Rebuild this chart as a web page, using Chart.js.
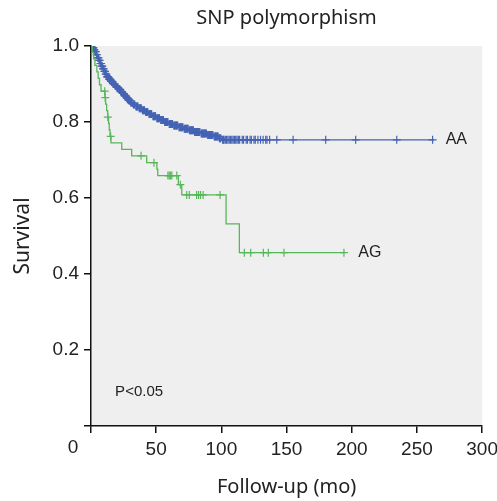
<!DOCTYPE html>
<html lang="en">
<head>
  <meta charset="UTF-8" />
  <title>SNP polymorphism</title>
  <style>
    html, body { margin: 0; padding: 0; background: #fff; overflow: hidden; }
  </style>
  <script src="https://cdn.jsdelivr.net/npm/chart.js"></script>
</head>
<body>
  <canvas id="km" width="503" height="501"></canvas>

  <script>
    const chartTitle = 'SNP polymorphism';

    // tick labels
    const xTicks = [0, 50, 100, 150, 200, 250, 300];
    const yTicks = [0, 0.2, 0.4, 0.6, 0.8, 1.0];

    // group AA: event times (mo) and survival after each drop
    const aaTime = [0, 1, 2, 3, 4, 5, 6, 7, 8, 9, 10, 11, 12, 13.5, 15, 16.5, 18, 19.5, 21, 22.5, 24, 25.5, 27, 28.5, 30,
                    32, 34, 36.5, 39, 41.5, 44, 47, 50, 53, 56, 59.5, 63, 67, 71, 75, 79, 84, 89, 94, 98, 100.5, 263];
    const aaSurv = [1.0, 0.995, 0.99, 0.985, 0.977, 0.969, 0.962, 0.954, 0.947, 0.940, 0.933, 0.926, 0.919, 0.913, 0.907,
                    0.901, 0.896, 0.891, 0.886, 0.880, 0.875, 0.869, 0.863, 0.857, 0.851, 0.846, 0.841, 0.836, 0.831,
                    0.826, 0.821, 0.815, 0.810, 0.805, 0.800, 0.795, 0.791, 0.786, 0.782, 0.778, 0.774, 0.770, 0.766,
                    0.762, 0.757, 0.753, 0.753];
    // censored times AA
    const aaCensor = [0.3, 0.7, 1.2, 1.5, 1.8, 2.3, 2.6, 3.3, 3.6, 4.2, 4.6, 5.3, 5.7, 6.2, 6.6, 7.3, 7.7, 8.3, 8.7,
                      9.3, 9.7, 10.3, 10.7, 11.3, 11.7, 12.3, 12.8, 13.2, 13.8, 14.3, 14.7, 15.4, 15.8, 16.2, 16.8,
                      17.3, 17.7, 18.4, 18.8, 19.2, 19.8, 20.3, 20.7, 21.4, 21.8, 22.2, 22.8, 23.3, 23.7, 24.4, 24.8,
                      25.2, 25.8, 26.3, 26.7, 27.4, 27.8, 28.2, 28.8, 29.3, 29.7, 30.5, 31, 31.5, 32.5, 33, 33.5,
                      34.5, 35, 35.5, 36, 37, 37.5, 38, 38.5, 39.5, 40, 40.5, 41, 42, 42.5, 43, 43.5, 44.5, 45, 45.5,
                      46, 46.5, 47.5, 48, 48.5, 49, 49.5, 50.5, 51, 51.5, 52, 52.5, 53.5, 54, 54.5, 55, 55.5, 56.5,
                      57, 57.5, 58, 58.5, 59, 60, 60.5, 61, 61.5, 62, 62.5, 63.5, 64, 64.5, 65, 65.5, 66, 66.5, 67.5,
                      68, 68.5, 69, 69.5, 70, 70.5, 71.5, 72, 72.5, 73, 73.5, 74, 74.5, 75.5, 76, 76.5, 77, 77.5, 78,
                      78.5, 79.5, 80, 80.5, 81, 81.5, 82, 82.5, 83, 83.5, 84.5, 85, 85.5, 86, 86.5, 87, 87.5, 88,
                      88.5, 89.5, 90, 90.5, 91, 91.5, 92, 92.5, 93, 93.5, 94.5, 95, 95.5, 96, 96.5, 97, 97.5, 98.5,
                      99, 99.5, 101, 101.5, 102, 103, 104, 105, 106, 107, 108, 109, 110, 111, 112, 113, 114, 116, 117,
                      119, 120, 122, 123, 125, 126, 128, 130, 132, 134, 135, 137, 142.5, 155, 180, 203, 234.5, 262];

    // group AG
    const agTime = [0, 1, 2, 3, 4.5, 5.5, 6.5, 7.7, 10.7, 11.2, 12, 12.8, 13.5, 14, 14.6, 15.3, 23.6, 31.2, 42.7,
                    50.5, 51.2, 67, 69.6, 103.6, 113.8, 194];
    const agSurv = [1.0, 0.983, 0.966, 0.949, 0.932, 0.915, 0.898, 0.881, 0.864, 0.847, 0.830, 0.813, 0.796, 0.779,
                    0.762, 0.745, 0.728, 0.711, 0.693, 0.676, 0.659, 0.635, 0.608, 0.532, 0.456, 0.456];
    const agCensor = [10.5, 10.9, 12.9, 15.1, 38.4, 48.3, 59, 60, 61, 62, 65.8, 68.5, 73.4, 75.4, 81, 82.5, 84, 86,
                      99, 117.6, 122.5, 132.2, 136, 148, 194];

    const blue = '#4463b4';
    const green = '#58b65a';

    function levelAt(times, surv, t) {
      let s = surv[0];
      for (let i = 0; i < times.length; i++) {
        if (times[i] <= t) s = surv[i];
      }
      return s;
    }

    function curve(times, surv) {
      return times.map((t, i) => ({ x: t, y: surv[i] }));
    }

    function marks(times, surv, cens) {
      return cens.map(t => ({ x: t, y: levelAt(times, surv, t) }));
    }

    const plotBg = {
      id: 'plotBg',
      beforeDraw(chart) {
        const { ctx, chartArea: a } = chart;
        ctx.save();
        ctx.fillStyle = '#efefef';
        ctx.fillRect(a.left, a.top, a.right - a.left, a.bottom - a.top);
        ctx.restore();
      }
    };

    const textLabels = {
      id: 'textLabels',
      afterDraw(chart) {
        const { ctx, chartArea: a, scales: { x, y } } = chart;
        ctx.save();
        ctx.fillStyle = '#222';
        // title, centred over the plot area
        ctx.font = '20px "Noto Sans"';
        ctx.textAlign = 'center';
        ctx.textBaseline = 'middle';
        ctx.fillText(chartTitle, (a.left + a.right) / 2, 18);

        ctx.textAlign = 'left';
        ctx.font = '16px "Liberation Sans"';
        ctx.fillText('AA', x.getPixelForValue(272), y.getPixelForValue(aaSurv[aaSurv.length - 1]));
        ctx.fillText('AG', x.getPixelForValue(205), y.getPixelForValue(agSurv[agSurv.length - 1]));
        ctx.font = '15px "Liberation Sans"';
        ctx.fillText('P<0.05', x.getPixelForValue(18.5), y.getPixelForValue(0.09));
        // origin label sits left of the axis
        ctx.font = '19px "Liberation Sans"';
        ctx.textAlign = 'center';
        ctx.textBaseline = 'top';
        ctx.fillText('0', x.getPixelForValue(0) - 18, x.top + 12);
        ctx.restore();
      }
    };

    const axisGrid = { drawOnChartArea: false, drawTicks: true, tickLength: 7, color: '#111', lineWidth: 1.5 };

    new Chart(document.getElementById('km'), {
      type: 'scatter',
      data: {
        datasets: [
          { label: 'AG', data: curve(agTime, agSurv), showLine: true, stepped: 'before',
            borderColor: green, borderWidth: 1.3, pointRadius: 0, fill: false },
          { label: 'AG censored', data: marks(agTime, agSurv, agCensor), showLine: false,
            pointStyle: 'cross', pointRadius: 4, borderColor: green, borderWidth: 1.2 },
          { label: 'AA', data: curve(aaTime, aaSurv), showLine: true, stepped: 'before',
            borderColor: blue, borderWidth: 1.3, pointRadius: 0, fill: false },
          { label: 'AA censored', data: marks(aaTime, aaSurv, aaCensor), showLine: false,
            pointStyle: 'cross', pointRadius: 4, borderColor: blue, borderWidth: 1.2 }
        ]
      },
      options: {
        responsive: false,
        animation: false,
        layout: { padding: { top: 46 } },
        plugins: {
          legend: { display: false },
          tooltip: { enabled: false },
          title: { display: false }
        },
        scales: {
          x: {
            type: 'linear',
            min: 0,
            max: 300,
            afterBuildTicks: s => { s.ticks = xTicks.map(v => ({ value: v })); },
            afterFit: s => { s.height = 75; },
            border: { display: true, color: '#111', width: 1.5 },
            grid: axisGrid,
            ticks: {
              color: '#222',
              font: { family: '"Liberation Sans"', size: 19 },
              padding: 5,
              maxRotation: 0,
              autoSkip: false,
              callback: v => v === 0 ? '' : v
            },
            title: {
              display: true,
              text: 'Follow-up (mo)',
              color: '#222',
              font: { family: '"Noto Sans"', size: 20 },
              padding: { top: 0, bottom: 2 }
            }
          },
          y: {
            min: 0,
            max: 1.0,
            afterBuildTicks: s => { s.ticks = yTicks.map(v => ({ value: v })); },
            afterFit: s => { s.width = 91; },
            border: { display: true, color: '#111', width: 1.5 },
            grid: axisGrid,
            ticks: {
              color: '#222',
              font: { family: '"Liberation Sans"', size: 19 },
              padding: 5,
              callback: v => v === 0 ? '' : v.toFixed(1)
            },
            title: {
              display: true,
              text: 'Survival',
              color: '#222',
              font: { family: '"Noto Sans"', size: 21 },
              padding: { top: 10, bottom: 0 }
            }
          }
        }
      },
      plugins: [plotBg, textLabels]
    });
  </script>
</body>
</html>
